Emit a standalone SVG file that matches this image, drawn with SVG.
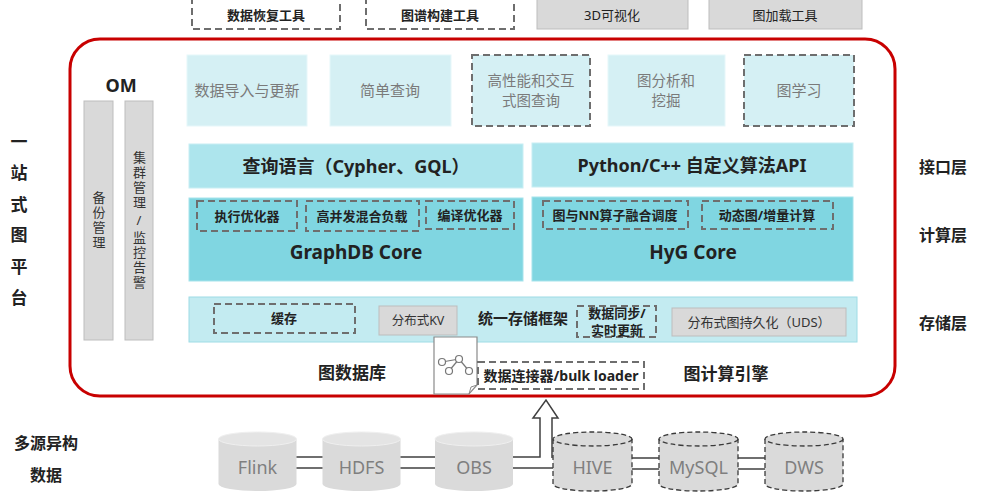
<svg xmlns="http://www.w3.org/2000/svg" width="989" height="497" viewBox="0 0 989 497">
<defs>
<style>
text{font-family:"Noto Sans","Noto Sans CJK SC",sans-serif;text-anchor:middle;}
.b{font-weight:bold;fill:#222;}
.v{writing-mode:vertical-rl;text-orientation:upright;font-size:13px;fill:#333;letter-spacing:2px;}
.dash{fill:none;stroke:#6e6e6e;stroke-width:2;stroke-dasharray:7 4;}
.gray{fill:#d9d9d9;stroke:#bdbdbd;stroke-width:1;}
.top{fill:#d5f0f4;stroke:#e6f7fa;stroke-width:1;}
.topd{fill:#d5f0f4;stroke:#6e6e6e;stroke-width:2;stroke-dasharray:7 4;}
.tt{font-size:15px;fill:#7a7a7a;}
.tt2{font-size:14.5px;fill:#7a7a7a;}
.iface{fill:#ade5ed;stroke:#c8eef3;stroke-width:1;}
.core{fill:#80d6e1;stroke:#a6e3eb;stroke-width:1;}
.cyl{fill:#dadada;}
.cylt{fill:#e4e4e4;stroke:#efefef;stroke-width:1;}
.cyld{fill:#dadada;stroke:#3a3a3a;stroke-width:1.3;stroke-dasharray:5 3;}
.ct{font-size:18px;fill:#7f7f7f;}
.conn{fill:none;stroke:#404040;stroke-width:1.5;}
</style>
</defs>

<g id="tools">
<g id="tool-restore"><rect x="192" y="-2" width="148" height="31" class="dash"/><text x="266" y="20" class="b" font-size="13">数据恢复工具</text></g>
<g id="tool-build"><rect x="366" y="-2" width="148" height="31" class="dash"/><text x="440" y="20" class="b" font-size="13">图谱构建工具</text></g>
<g id="tool-3d"><rect x="537" y="-1" width="151" height="30" class="gray"/><text x="612" y="20" font-size="13" fill="#222">3D可视化</text></g>
<g id="tool-load"><rect x="709" y="-1" width="153" height="30" class="gray"/><text x="785" y="20" font-size="13" fill="#222">图加载工具</text></g>
</g>

<g id="platform">
<rect x="70" y="39" width="825" height="357" rx="30" fill="none" stroke="#c80000" stroke-width="3"/>
</g>

<g id="side-labels">
<text class="b" font-size="17"><tspan x="19" y="148">一</tspan><tspan x="19" y="179">站</tspan><tspan x="19" y="211">式</tspan><tspan x="19" y="241">图</tspan><tspan x="19" y="273">平</tspan><tspan x="19" y="304">台</tspan></text>
<text x="943" y="173" class="b" font-size="16">接口层</text>
<text x="943" y="241" class="b" font-size="16">计算层</text>
<text x="943" y="329" class="b" font-size="16">存储层</text>
</g>

<g id="om">
<text x="121" y="92" class="b" font-size="18">OM</text>
<g id="om-backup"><rect x="84" y="101" width="29" height="239" class="gray"/>
<text x="98.5" y="221" class="v">备份管理</text></g>
<g id="om-cluster"><rect x="125" y="101" width="28" height="239" class="gray"/>
<text x="139" y="221" class="v">集群管理/监控告警</text></g>
</g>

<g id="apps">
<g id="app-import"><rect x="187" y="55" width="120" height="71" class="top"/><text x="247" y="96" class="tt">数据导入与更新</text></g>
<g id="app-query"><rect x="330" y="55" width="121" height="71" class="top"/><text x="390" y="96" class="tt">简单查询</text></g>
<g id="app-interactive"><rect x="472" y="55" width="118" height="71" class="topd"/><text class="tt2"><tspan x="531" y="86">高性能和交互</tspan><tspan x="531" y="106">式图查询</tspan></text></g>
<g id="app-analysis"><rect x="608" y="55" width="117" height="71" class="top"/><text class="tt2"><tspan x="666" y="86">图分析和</tspan><tspan x="666" y="106">挖掘</tspan></text></g>
<g id="app-learning"><rect x="744" y="55" width="110" height="71" class="topd"/><text x="799" y="96" class="tt">图学习</text></g>
</g>

<g id="interface">
<g id="iface-ql"><rect x="189" y="144" width="334" height="44" class="iface"/><text x="356" y="173" class="b" font-size="18">查询语言（Cypher、GQL）</text></g>
<g id="iface-api"><rect x="532" y="143" width="321" height="44" class="iface"/><text x="692" y="172" class="b" font-size="18">Python/C++ 自定义算法API</text></g>
</g>

<g id="compute">
<g id="graphdb-core"><rect x="189" y="198" width="334" height="83" class="core"/>
<rect x="197" y="201" width="100" height="30" class="dash"/><text x="247" y="221" class="b" font-size="13">执行优化器</text>
<rect x="306" y="201" width="113" height="30" class="dash"/><text x="362" y="221" class="b" font-size="13">高并发混合负载</text>
<rect x="426" y="201" width="88" height="28" class="dash"/><text x="470" y="220" class="b" font-size="13">编译优化器</text>
<text x="356" y="259" class="b" font-size="19">GraphDB Core</text></g>
<g id="hyg-core"><rect x="532" y="197" width="321" height="84" class="core"/>
<rect x="543" y="201" width="145" height="28" class="dash"/><text x="615" y="220" class="b" font-size="13">图与NN算子融合调度</text>
<rect x="702" y="201" width="131" height="28" class="dash"/><text x="767" y="220" class="b" font-size="13">动态图/增量计算</text>
<text x="693" y="259" class="b" font-size="19">HyG Core</text></g>
</g>

<g id="storage">
<rect x="189" y="297" width="668" height="45" fill="#c3ebf1" stroke="#9edce5" stroke-width="1"/>
<g id="st-cache"><rect x="214" y="304" width="141" height="29" class="dash"/><text x="284" y="323" class="b" font-size="13">缓存</text></g>
<g id="st-kv"><rect x="379" y="306" width="78" height="29" class="gray"/><text x="418" y="325" font-size="12.5" fill="#333">分布式KV</text></g>
<text x="523" y="324" class="b" font-size="15">统一存储框架</text>
<g id="st-sync"><rect x="577" y="306" width="79" height="31" class="dash"/><text class="b" font-size="13"><tspan x="617" y="318">数据同步/</tspan><tspan x="617" y="335">实时更新</tspan></text></g>
<g id="st-uds"><rect x="672" y="308" width="174" height="28" class="gray"/><text x="759" y="327" font-size="13" fill="#333">分布式图持久化（UDS）</text></g>
</g>

<g id="engines">
<text x="352" y="379" class="b" font-size="17">图数据库</text>
<text x="726" y="380" class="b" font-size="17">图计算引擎</text>
<g id="doc-icon">
<path d="M434,337 H477 V385 L469,394 H434 Z" fill="#fff" stroke="#8a8a8a" stroke-width="1.2"/>
<path d="M469,394 L471,387 L477,385" fill="none" stroke="#8a8a8a" stroke-width="1"/>
<g stroke="#777" stroke-width="1.2" fill="#fff">
<line x1="442" y1="362" x2="459" y2="359"/><line x1="459" y1="359" x2="449" y2="371"/><line x1="459" y1="359" x2="469" y2="371"/>
<circle cx="442" cy="362" r="3.5"/><circle cx="459" cy="359" r="3.5"/><circle cx="449" cy="371" r="3.5"/><circle cx="469" cy="371" r="3.5"/>
</g>
</g>
<g id="loader"><rect x="478" y="362" width="166" height="27" class="dash"/><text x="561" y="381" class="b" font-size="14">数据连接器/bulk loader</text></g>
</g>

<g id="sources">
<text class="b" font-size="16"><tspan x="46" y="449">多源异构</tspan><tspan x="46" y="481">数据</tspan></text>
<g id="src-flink"><path d="M218.5,439 V484 A39,7 0 0 0 296.5,484 V439 Z" class="cyl"/><ellipse cx="257.5" cy="439" rx="39" ry="7" class="cylt"/><text x="257.5" y="474" class="ct">Flink</text></g>
<g id="src-hdfs"><path d="M322.5,439 V484 A39,7 0 0 0 400.5,484 V439 Z" class="cyl"/><ellipse cx="361.5" cy="439" rx="39" ry="7" class="cylt"/><text x="361.5" y="474" class="ct">HDFS</text></g>
<g id="src-obs"><path d="M435,439 V484 A39,7 0 0 0 513,484 V439 Z" class="cyl"/><ellipse cx="474" cy="439" rx="39" ry="7" class="cylt"/><text x="474" y="474" class="ct">OBS</text></g>
<g id="src-hive"><path d="M553,439 V484 A39.5,7 0 0 0 632,484 V439" class="cyld"/><ellipse cx="592.5" cy="439" rx="39.5" ry="7" class="cyld"/><text x="592.5" y="474" class="ct">HIVE</text></g>
<g id="src-mysql"><path d="M659,439 V484 A39.5,7 0 0 0 738,484 V439" class="cyld"/><ellipse cx="698.5" cy="439" rx="39.5" ry="7" class="cyld"/><text x="698.5" y="474" class="ct">MySQL</text></g>
<g id="src-dws"><path d="M765,439 V484 A39,7 0 0 0 843,484 V439" class="cyld"/><ellipse cx="804" cy="439" rx="39" ry="7" class="cyld"/><text x="804" y="474" class="ct">DWS</text></g>
</g>

<g id="connectors">
<path class="conn" d="M296.5,457 H322.5 M296.5,468 H322.5"/>
<path class="conn" d="M400.5,457 H435 M400.5,468 H435"/>
<path class="conn" d="M513,468 H553"/>
<path class="conn" d="M513,457 H540 V418 H533 L546,400 L558,418 H552 V458" fill="#fff"/>
<path class="conn" d="M632,458 H659 M632,469 H659"/>
<path class="conn" d="M738,458 H765 M738,469 H765"/>
</g>
</svg>
